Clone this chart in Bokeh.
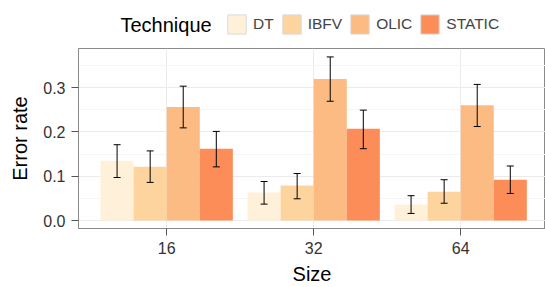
import numpy as np
from bokeh.plotting import figure
from bokeh.layouts import column
from bokeh.models import (ColumnDataSource, Range1d, FixedTicker, SingleIntervalTicker,
                          Whisker, TeeHead, Legend, LegendItem, PrintfTickFormatter, Label)
from bokeh.embed import file_html
from bokeh.resources import INLINE

# ---- data ----
sizes = ["16", "32", "64"]
techniques = ["DT", "IBFV", "OLIC", "STATIC"]
colors = ["#FEF0D9", "#FDD49E", "#FDBB84", "#FC8D59"]

dt_mean = [0.135, 0.063, 0.036]
dt_low = [0.097, 0.037, 0.016]
dt_high = [0.171, 0.088, 0.056]

ibfv_mean = [0.121, 0.079, 0.065]
ibfv_low = [0.086, 0.049, 0.039]
ibfv_high = [0.157, 0.106, 0.092]

olic_mean = [0.256, 0.319, 0.260]
olic_low = [0.209, 0.269, 0.212]
olic_high = [0.303, 0.369, 0.307]

static_mean = [0.162, 0.207, 0.092]
static_low = [0.121, 0.162, 0.061]
static_high = [0.201, 0.249, 0.123]

means = [dt_mean, ibfv_mean, olic_mean, static_mean]
lows = [dt_low, ibfv_low, olic_low, static_low]
highs = [dt_high, ibfv_high, olic_high, static_high]

FONT = "Liberation Sans"
W = 545
LEG_H = 47
LEFT = 78

# ---- main plot ----
p = figure(width=W, height=240, output_backend="svg", toolbar_location=None,
           x_range=Range1d(0.4, 3.577), y_range=Range1d(-0.018, 0.388),
           min_border_left=LEFT, min_border_right=0, min_border_bottom=58, min_border_top=1)
p.background_fill_color = "white"
p.border_fill_color = "white"
p.outline_line_color = "#8a8a8a"
p.outline_line_width = 1

group_x = np.arange(1, len(sizes) + 1)
n = len(techniques)
bw = 0.9 / n
offsets = (np.arange(n) - (n - 1) / 2) * bw

for i, tech in enumerate(techniques):
    src = ColumnDataSource(dict(x=group_x + offsets[i], top=means[i],
                                lower=lows[i], upper=highs[i]))
    p.vbar(x="x", top="top", bottom=0, width=bw, source=src,
           fill_color=colors[i], line_color=None)
    w = Whisker(source=src, base="x", upper="upper", lower="lower", dimension="height",
                line_color="black", line_width=1, level="overlay",
                upper_head=TeeHead(size=7, line_color="black", line_width=1),
                lower_head=TeeHead(size=7, line_color="black", line_width=1))
    p.add_layout(w)

xt = FixedTicker(ticks=list(group_x), minor_ticks=[])
p.xaxis.ticker = xt
p.xaxis.major_label_overrides = {int(k): s for k, s in zip(group_x, sizes)}
p.xgrid.ticker = xt
p.yaxis.ticker = SingleIntervalTicker(interval=0.1, num_minor_ticks=2)
p.yaxis.formatter = PrintfTickFormatter(format="%.1f")

for ax in (p.xaxis[0], p.yaxis[0]):
    ax.axis_line_color = "#8a8a8a"
    ax.major_tick_line_color = "#555555"
    ax.major_tick_in = 0
    ax.major_tick_out = 7
    ax.minor_tick_line_color = None
    ax.major_label_text_font = FONT
    ax.major_label_text_font_size = "16px"
    ax.major_label_text_color = "#333333"
    ax.axis_label_text_font = FONT
    ax.axis_label_text_font_size = "20px"
    ax.axis_label_text_font_style = "normal"
    ax.axis_label_text_color = "black"

p.xaxis.axis_label = "Size"
p.yaxis.axis_label = "Error rate"
p.xaxis.major_label_standoff = 6
p.yaxis.major_label_standoff = 6
p.xaxis.axis_label_standoff = 6
p.yaxis.axis_label_standoff = 9

p.xgrid.grid_line_color = "#EBEBEB"
p.ygrid.grid_line_color = "#EBEBEB"
p.ygrid.minor_grid_line_color = "#F5F5F5"

# ---- legend strip (frame aligned with main plot frame) ----
lg = figure(width=W, height=LEG_H, output_backend="svg", toolbar_location=None,
            x_range=Range1d(100, 200), y_range=Range1d(100, 200),
            min_border_left=LEFT, min_border_right=0, min_border_top=0, min_border_bottom=0,
            x_axis_location=None, y_axis_location=None)
lg.outline_line_color = None
lg.grid.visible = False
lg.background_fill_color = "white"
lg.border_fill_color = "white"

items = []
for i, tech in enumerate(techniques):
    # legend-key renderers: real data, but outside this strip's ranges (not visible)
    r = lg.vbar(x=group_x, top=means[i], width=bw, fill_color=colors[i],
                line_color="#DADADA", line_width=1)
    items.append(LegendItem(label=tech, renderers=[r]))

legend = Legend(items=items, orientation="horizontal", location=(225 - LEFT, LEG_H - 36),
                label_text_font=FONT, label_text_font_size="15.5px",
                glyph_width=23, glyph_height=24, label_height=24,
                label_standoff=5, spacing=6, padding=0, margin=0,
                border_line_color=None, background_fill_alpha=0)
lg.add_layout(legend)

title = Label(x=120 - LEFT, y=LEG_H - 24, x_units="screen", y_units="screen",
              text="Technique", text_font=FONT, text_font_size="20px",
              text_baseline="middle", text_align="left", text_color="black")
lg.add_layout(title)

layout = column(lg, p, spacing=0)
open("out.html", "w").write(file_html(layout, INLINE))
